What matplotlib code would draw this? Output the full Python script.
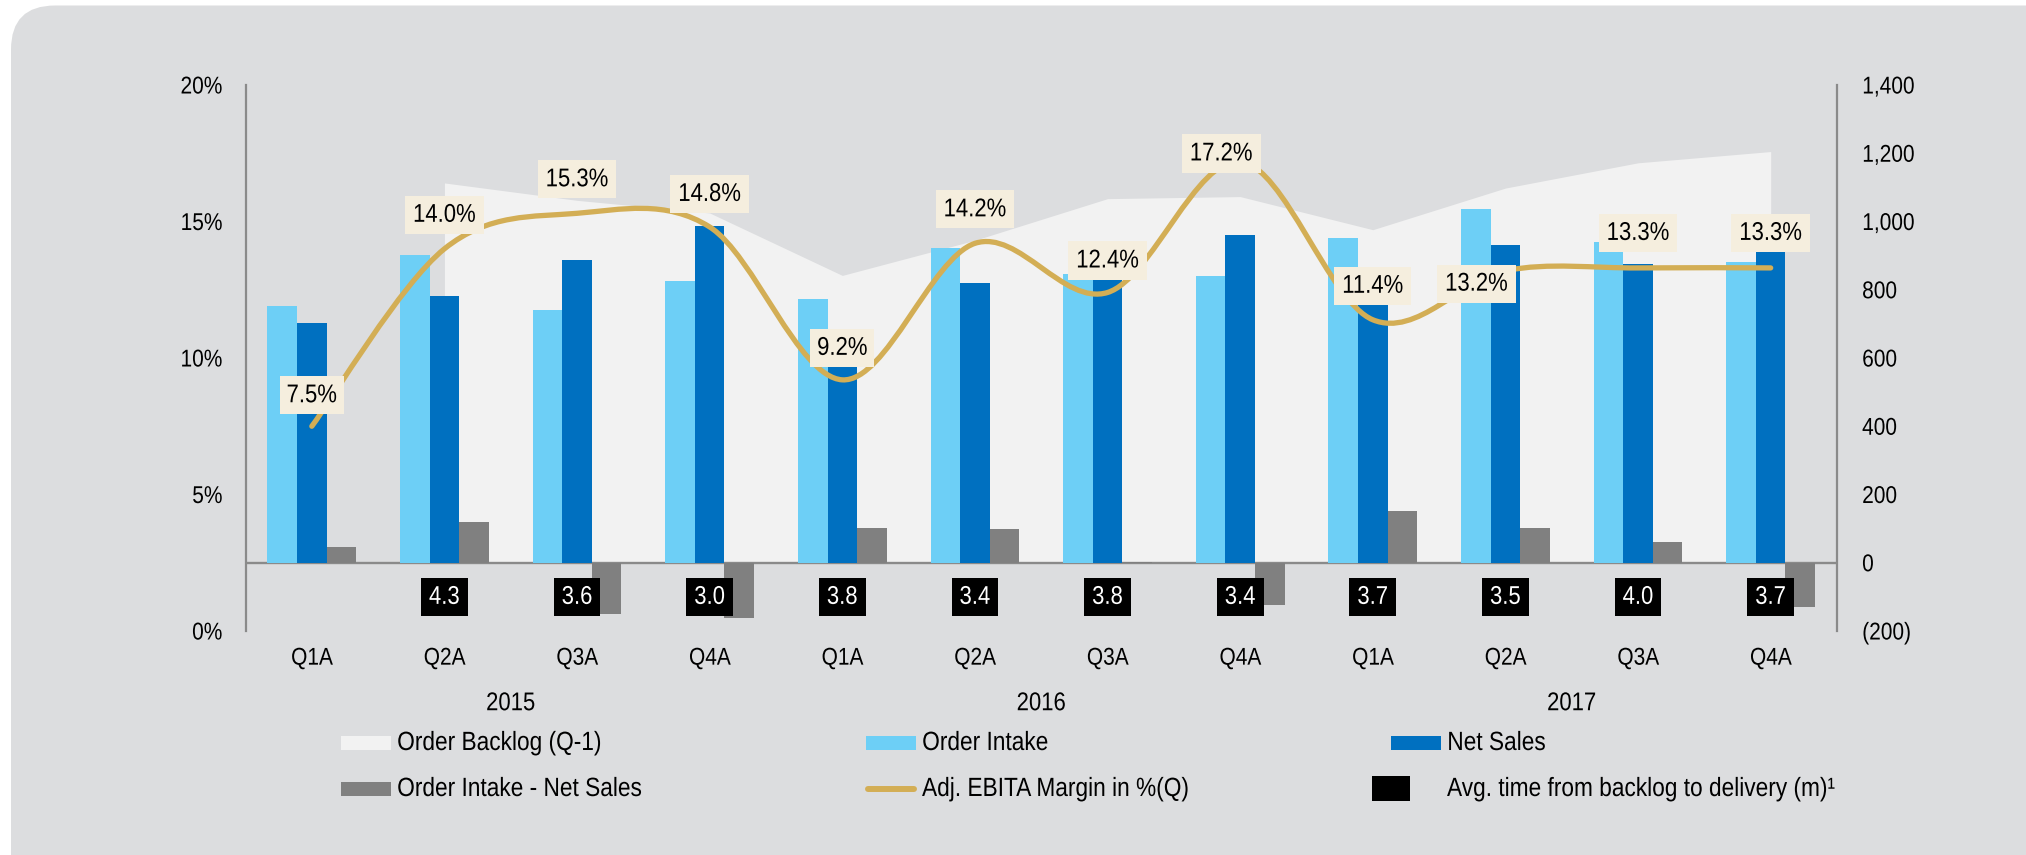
import numpy as np
import matplotlib.pyplot as plt
from matplotlib.patches import FancyBboxPatch, Rectangle, PathPatch
from matplotlib.path import Path
from matplotlib.lines import Line2D
from matplotlib.patheffects import AbstractPathEffect
from matplotlib.transforms import IdentityTransform, Affine2D

plt.rcParams['font.family'] = ['Liberation Sans', 'DejaVu Sans']

# data (order values in EUR m, margin in %)
quarters = ['Q1A', 'Q2A', 'Q3A', 'Q4A'] * 3
years = ['2015', '2016', '2017']
order_backlog = [np.nan, 1113, 1062, 1025, 842, 945, 1067, 1073, 976, 1098, 1172, 1205]
order_intake = [752, 902, 740, 826, 773, 921, 845, 839, 951, 1037, 939, 880]
net_sales = [703, 782, 888, 988, 672, 819, 842, 961, 799, 932, 876, 1010]
oi_minus_ns = [47, 118, -150, -163, 101, 100, 3, -123, 152, 103, 61, -131]
ebita_margin = [7.5, 14.0, 15.3, 14.8, 9.2, 14.2, 12.4, 17.2, 11.4, 13.2, 13.3, 13.3]
avg_time = [None, 4.3, 3.6, 3.0, 3.8, 3.4, 3.8, 3.4, 3.7, 3.5, 4.0, 3.7]

right_ticks = [-200, 0, 200, 400, 600, 800, 1000, 1200, 1400]
right_labels = ['(200)', '0', '200', '400', '600', '800', '1,000', '1,200', '1,400']
left_ticks = [0, 5, 10, 15, 20]
left_labels = ['0%', '5%', '10%', '15%', '20%']

# label nudges in pixels (dx, dy)
label_dx = [0, 0, 0, 0, 0, 0, 0, -19, 0, -29, 0, 0]
label_dy = [31, 34, 34, 33, 32, 34, 32, 8, 34, -13, 35, 35]

C_BG = '#dcdddf'
C_BACKLOG = '#f2f2f2'
C_INTAKE = '#6dcff6'
C_SALES = '#0070c0'
C_DIFF = '#808080'
C_GOLD = '#d3ae55'
C_LABEL = '#f5eede'
C_AXIS = '#8a8a8a'
SX = 0.86   # the slide uses a narrow Arial


class Narrow(AbstractPathEffect):
    """squeeze text horizontally around its anchor"""

    def __init__(self, anchor='center', sx=SX):
        super().__init__()
        self.anchor = anchor
        self.sx = sx

    def draw_path(self, renderer, gc, tpath, affine, rgbFace=None):
        ext = tpath.get_extents(affine)
        cx = {'left': ext.x0, 'center': 0.5 * (ext.x0 + ext.x1), 'right': ext.x1}[self.anchor]
        t = affine + Affine2D().translate(-cx, 0).scale(self.sx, 1).translate(cx, 0)
        renderer.draw_path(gc, tpath, t, rgbFace)


W, H = 2026, 855
fig = plt.figure(figsize=(W / 100, H / 100), dpi=100, facecolor='white')


def fx(px):
    return px / W


def fy(py):
    return 1 - py / H


bg = FancyBboxPatch((11, -100), 2300, H - 5.5 + 100,
                    boxstyle='round,pad=0,rounding_size=44',
                    transform=IdentityTransform(), facecolor=C_BG,
                    edgecolor='none', zorder=-1)
fig.add_artist(bg)

ax = fig.add_axes([fx(245.5), fy(631), fx(1837) - fx(245.5), fy(85) - fy(631)])
ax.set_facecolor('none')
ax2 = ax.twinx()
ax.yaxis.tick_right()
ax2.yaxis.tick_left()

x = np.arange(len(quarters))
w = 0.223

ax.fill_between(x, 0, order_backlog, color=C_BACKLOG, lw=0, zorder=1)
ax.axhline(0, color=C_AXIS, lw=1.7, zorder=1.5)
ax.bar(x - w, order_intake, w, color=C_INTAKE, zorder=2)
ax.bar(x, net_sales, w, color=C_SALES, zorder=2)
ax.bar(x + w, oi_minus_ns, w, color=C_DIFF, zorder=2)

for i, v in enumerate(avg_time):
    if v is None:
        continue
    ax.text(i, -100, f'{v:.1f}', color='white', ha='center', va='center',
            fontsize=18.5, zorder=4, path_effects=[Narrow()],
            bbox=dict(boxstyle='square,pad=0.21', mutation_aspect=1.3,
                      fc='black', ec='none'))

ax.set_xlim(-0.5, len(quarters) - 0.5)
ax.set_ylim(-200, 1400)
ax.set_xticks(x, quarters)
ax.set_yticks(right_ticks, right_labels)
ax.tick_params(axis='x', length=0, pad=12, labelsize=17.5)
ax.tick_params(axis='y', length=0, pad=18, labelsize=17.5)
for s in ax.spines.values():
    s.set_visible(False)

for j, yr in enumerate(years):
    ax.annotate(yr, (4 * j + 1.5, 0), xycoords=('data', 'axes fraction'),
                xytext=(0, -52), textcoords='offset points',
                ha='center', va='center', fontsize=18.5, path_effects=[Narrow()])

# smoothed margin line (bezier through the quarterly points)
pts = np.column_stack([x, ebita_margin]).astype(float)
verts = [pts[0]]
codes = [Path.MOVETO]
n = len(pts)
for i in range(n - 1):
    p0 = pts[i - 1] if i > 0 else pts[i]
    p1, p2 = pts[i], pts[i + 1]
    p3 = pts[i + 2] if i + 2 < n else pts[i + 1]
    verts += [p1 + (p2 - p0) / 6, p2 - (p3 - p1) / 6, p2]
    codes += [Path.CURVE4] * 3
ax2.add_patch(PathPatch(Path(verts, codes), facecolor='none', edgecolor=C_GOLD,
                        lw=3.8, capstyle='round', zorder=3))

for i, v in enumerate(ebita_margin):
    ax2.annotate(f'{v:.1f}%', (i, v), xytext=(label_dx[i] / 1.389, label_dy[i] / 1.389),
                 textcoords='offset points', ha='center', va='center', fontsize=18.5,
                 zorder=5, path_effects=[Narrow()],
                 bbox=dict(boxstyle='square,pad=0.11', mutation_aspect=2.5,
                           fc=C_LABEL, ec='none'))

ax2.set_ylim(0, 20)
ax2.set_yticks(left_ticks, left_labels)
ax2.tick_params(axis='y', length=0, pad=16.5, labelsize=17.5)
ax2.spines['top'].set_visible(False)
ax2.spines['bottom'].set_visible(False)
for side in ['left', 'right']:
    ax2.spines[side].set_color(C_AXIS)
    ax2.spines[side].set_linewidth(1.6)

for t in ax.get_xticklabels():
    t.set_path_effects([Narrow('center')])
for t in ax.get_yticklabels():
    t.set_path_effects([Narrow('left')])
for t in ax2.get_yticklabels():
    t.set_path_effects([Narrow('right')])


# legend, laid out like the original slide
def swatch(x0, yc, color):
    fig.add_artist(Rectangle((fx(x0), fy(yc + 7)), 50 / W, 14 / H,
                             transform=fig.transFigure, fc=color, ec='none'))


def legend_text(x0, yc, s):
    fig.text(fx(x0), fy(yc), s, va='center', fontsize=19, path_effects=[Narrow('left')])


swatch(341, 743, C_BACKLOG)
legend_text(397, 743, 'Order Backlog (Q-1)')
swatch(866, 743, C_INTAKE)
legend_text(922, 743, 'Order Intake')
swatch(1391, 743, C_SALES)
legend_text(1447, 743, 'Net Sales')

swatch(341, 789, C_DIFF)
legend_text(397, 789, 'Order Intake - Net Sales')
fig.add_artist(Line2D([fx(868), fx(914)], [fy(789), fy(789)], transform=fig.transFigure,
                      color=C_GOLD, lw=4.3, solid_capstyle='round'))
legend_text(922, 789, 'Adj. EBITA Margin in %(Q)')
fig.add_artist(Rectangle((fx(1372), fy(801)), 38 / W, 25 / H,
                         transform=fig.transFigure, fc='black', ec='none'))
legend_text(1447, 789, 'Avg. time from backlog to delivery (m)\u00b9')

fig.savefig('out.png', dpi=100, facecolor='white')
